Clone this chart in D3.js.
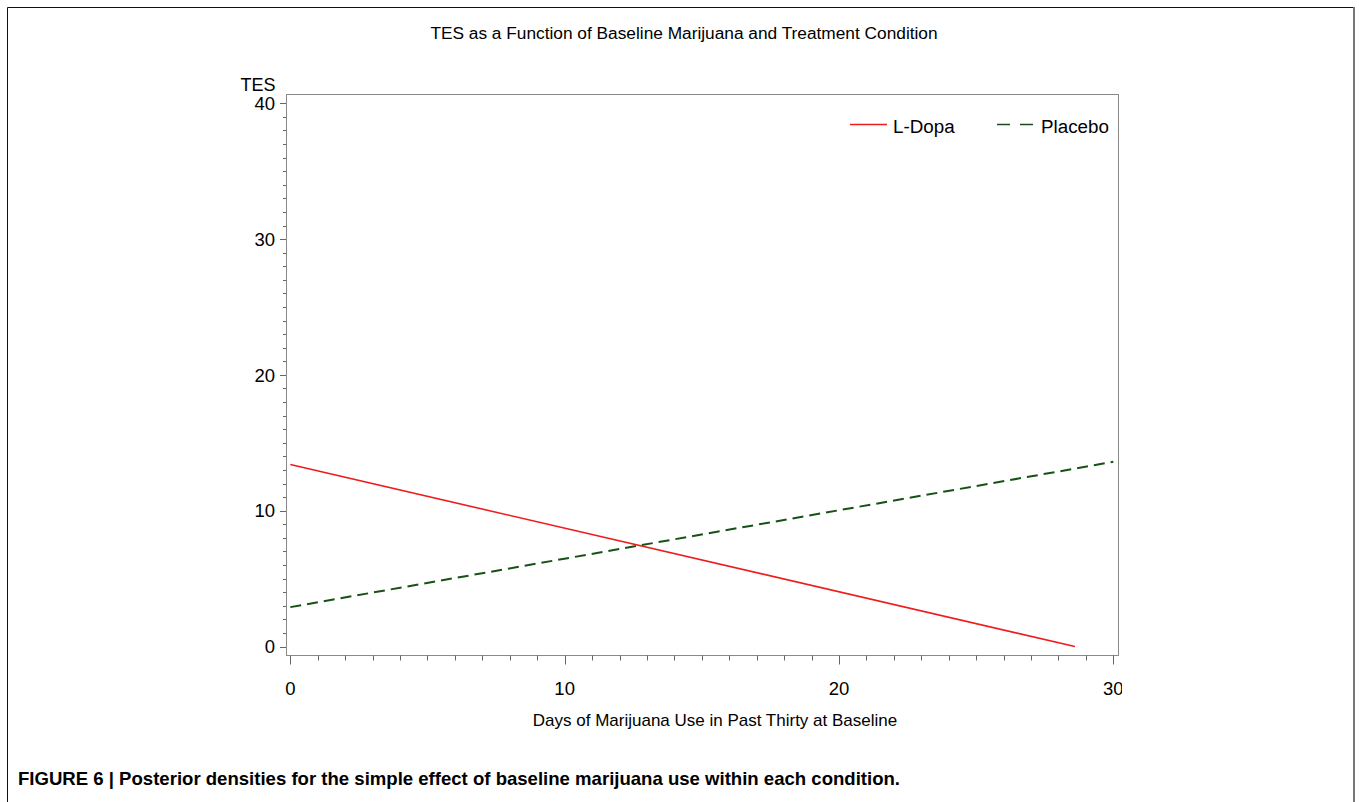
<!DOCTYPE html>
<html>
<head>
<meta charset="utf-8">
<script src="https://cdn.jsdelivr.net/npm/d3@7"></script>
<style>
  html, body { margin: 0; padding: 0; background: #fff; }
  svg { display: block; }
</style>
</head>
<body>
<svg id="chart" width="1359" height="802"></svg>
<script>
// Predicted TES by baseline days of marijuana use, per condition
const lDopaDays = [0, 28.6];
const lDopaTES = [13.4, 0];
const placeboDays = [0, 30];
const placeboTES = [2.9, 13.6];

const seriesNames = ["L-Dopa", "Placebo"];
const yMajorTicks = [0, 10, 20, 30, 40];
const xMajorTicks = [0, 10, 20, 30];

const titleText = "TES as a Function of Baseline Marijuana and Treatment Condition";
const xTitle = "Days of Marijuana Use in Past Thirty at Baseline";
const yTitle = "TES";
const captionText = "FIGURE 6 | Posterior densities for the simple effect of baseline marijuana use within each condition.";

const svg = d3.select("#chart");
const font = "'Liberation Sans', Arial, sans-serif";

// outer figure frame
svg.append("line").attr("x1", 7.5).attr("y1", 7.5).attr("x2", 1354).attr("y2", 7.5)
  .attr("stroke", "#111").attr("stroke-width", 1);
svg.append("line").attr("x1", 7.5).attr("y1", 7.5).attr("x2", 7.5).attr("y2", 802)
  .attr("stroke", "#111").attr("stroke-width", 1);
svg.append("line").attr("x1", 1354).attr("y1", 7).attr("x2", 1354).attr("y2", 802)
  .attr("stroke", "#777").attr("stroke-width", 2);

// plot area
const frame = { left: 286, right: 1118, top: 94.5, bottom: 655.5 };
const x = d3.scaleLinear().domain([0, 30]).range([290.3, 1113.3]);
const y = d3.scaleLinear().domain([0, 40]).range([646.5, 103.3]);

svg.append("rect")
  .attr("x", frame.left + 0.5).attr("y", frame.top)
  .attr("width", frame.right - frame.left).attr("height", frame.bottom - frame.top)
  .attr("fill", "none").attr("stroke", "#8a8a8a").attr("stroke-width", 1);

// y axis ticks
const yMinor = d3.range(0, 41, 1);
svg.append("g").selectAll("line").data(yMinor).join("line")
  .attr("x1", d => d % 10 === 0 ? frame.left - 6 : frame.left - 3)
  .attr("x2", frame.left)
  .attr("y1", d => Math.round(y(d)) + 0.5).attr("y2", d => Math.round(y(d)) + 0.5)
  .attr("stroke", "#666").attr("stroke-width", 1);

svg.append("g").selectAll("text").data(yMajorTicks).join("text")
  .attr("x", 275).attr("y", d => y(d))
  .attr("dy", "0.36em")
  .attr("text-anchor", "end")
  .attr("font-family", font).attr("font-size", 18.5).attr("fill", "#000")
  .text(d => d);

svg.append("text").attr("x", 258).attr("y", 91)
  .attr("text-anchor", "middle")
  .attr("font-family", font).attr("font-size", 18).attr("fill", "#000")
  .text(yTitle);

// x axis ticks
const xMinor = d3.range(0, 31, 1);
svg.append("g").selectAll("line").data(xMinor).join("line")
  .attr("x1", d => Math.round(x(d)) + 0.5).attr("x2", d => Math.round(x(d)) + 0.5)
  .attr("y1", frame.bottom)
  .attr("y2", d => d % 10 === 0 ? frame.bottom + 9 : frame.bottom + 5)
  .attr("stroke", "#666").attr("stroke-width", 1);

svg.append("clipPath").attr("id", "xlabClip")
  .append("rect").attr("x", 0).attr("y", 660).attr("width", 1122).attr("height", 60);

svg.append("g").attr("clip-path", "url(#xlabClip)")
  .selectAll("text").data(xMajorTicks).join("text")
  .attr("x", d => x(d)).attr("y", 688)
  .attr("dy", "0.36em")
  .attr("text-anchor", "middle")
  .attr("font-family", font).attr("font-size", 18.5).attr("fill", "#000")
  .text(d => d);

svg.append("text").attr("x", 715).attr("y", 726)
  .attr("text-anchor", "middle")
  .attr("font-family", font).attr("font-size", 17).attr("fill", "#000")
  .text(xTitle);

// chart title
svg.append("text").attr("x", 684).attr("y", 39)
  .attr("text-anchor", "middle")
  .attr("font-family", font).attr("font-size", 17.3).attr("fill", "#000")
  .text(titleText);

// series lines
const line = d3.line().x(d => x(d[0])).y(d => y(d[1]));
const lDopaPts = d3.zip(lDopaDays, lDopaTES);
const placeboPts = d3.zip(placeboDays, placeboTES);

svg.append("path").datum(placeboPts)
  .attr("d", line).attr("fill", "none")
  .attr("stroke", "#155215").attr("stroke-width", 2)
  .attr("stroke-dasharray", "11,6");

svg.append("path").datum(lDopaPts)
  .attr("d", line).attr("fill", "none")
  .attr("stroke", "#ee1c1c").attr("stroke-width", 1.6);

// legend
const lg = svg.append("g");
lg.append("line").attr("x1", 850).attr("x2", 887).attr("y1", 124.5).attr("y2", 124.5)
  .attr("stroke", "#ee1c1c").attr("stroke-width", 1.6);
lg.append("text").attr("x", 893).attr("y", 126).attr("dy", "0.36em")
  .attr("font-family", font).attr("font-size", 18.8).attr("fill", "#000")
  .text(seriesNames[0]);
lg.append("line").attr("x1", 997).attr("x2", 1033).attr("y1", 124.5).attr("y2", 124.5)
  .attr("stroke", "#1b4a1b").attr("stroke-width", 1.6)
  .attr("stroke-dasharray", "13,10");
lg.append("text").attr("x", 1041).attr("y", 126).attr("dy", "0.36em")
  .attr("font-family", font).attr("font-size", 18.8).attr("fill", "#000")
  .text(seriesNames[1]);

// figure caption
svg.append("text").attr("x", 18).attr("y", 785)
  .attr("font-family", "'Liberation Sans Narrow', 'Arial Narrow', 'Liberation Sans', sans-serif")
  .attr("font-weight", "bold").attr("font-size", 18.5).attr("fill", "#000")
  .attr("textLength", 882).attr("lengthAdjust", "spacingAndGlyphs")
  .text(captionText);
</script>
</body>
</html>
